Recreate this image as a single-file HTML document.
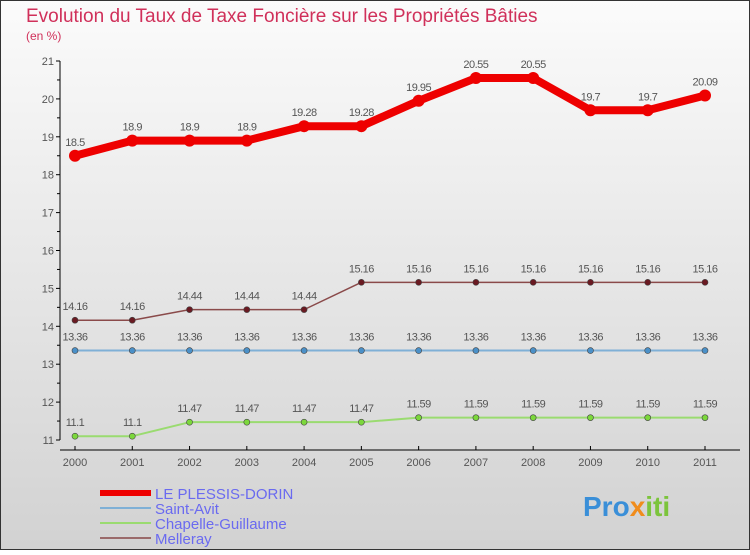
<!DOCTYPE html>
<html><head><meta charset="utf-8"><style>
body{margin:0;width:750px;height:550px;overflow:hidden;font-family:"Liberation Sans",sans-serif}
</style></head><body>
<svg width="750" height="550" xmlns="http://www.w3.org/2000/svg">
<defs><linearGradient id="bg" x1="0" y1="0" x2="0" y2="1"><stop offset="0" stop-color="#fbfbfb"/><stop offset="1" stop-color="#d2d2d2"/></linearGradient></defs>
<rect x="0.5" y="0.5" width="749" height="549" fill="url(#bg)" stroke="#333"/>
<text x="26" y="22" font-size="19" fill="#d0305a">Evolution du Taux de Taxe Foncière sur les Propriétés Bâties</text>
<text x="26" y="40" font-size="12" fill="#d0305a">(en %)</text>
<g id="axes"></g><g id="series"></g><g id="legend"></g>
<text x="583" y="516" font-size="28" font-weight="bold" fill="#3a8fd8">Pro<tspan fill="#f08c1c">x</tspan><tspan fill="#7cc43c">iti</tspan></text>
</svg>
<script>
const years=[2000,2001,2002,2003,2004,2005,2006,2007,2008,2009,2010,2011];
const yTicks=[11,12,13,14,15,16,17,18,19,20,21];
const plessis=[18.5,18.9,18.9,18.9,19.28,19.28,19.95,20.55,20.55,19.7,19.7,20.09];
const saintAvit=[13.36,13.36,13.36,13.36,13.36,13.36,13.36,13.36,13.36,13.36,13.36,13.36];
const chapelle=[11.1,11.1,11.47,11.47,11.47,11.47,11.59,11.59,11.59,11.59,11.59,11.59];
const melleray=[14.16,14.16,14.44,14.44,14.44,15.16,15.16,15.16,15.16,15.16,15.16,15.16];
const NS="http://www.w3.org/2000/svg";
const X=i=>75+i*(630/11);
const Y=v=>440-(v-11)*37.9;
function mk(t,a,p){const e=document.createElementNS(NS,t);for(const k in a)e.setAttribute(k,a[k]);p.appendChild(e);return e;}
const ax=document.getElementById('axes');
let l=mk('line',{x1:60,y1:Y(21),x2:60,y2:Y(11),stroke:'#000'},ax);


l=mk('line',{x1:60,y1:450,x2:740,y2:450,stroke:'#000'},ax);


yTicks.forEach(v=>{
 mk('line',{x1:56,y1:Y(v),x2:60,y2:Y(v),stroke:'#000'},ax);
 if(v<21)mk('line',{x1:57,y1:Y(v+0.5),x2:60,y2:Y(v+0.5),stroke:'#000'},ax);
 const t=mk('text',{x:54,y:Y(v)+4,'font-size':11,fill:'#555','text-anchor':'end'},ax);t.textContent=v;
 
 
});
years.forEach((y,i)=>{
 mk('line',{x1:X(i),y1:446,x2:X(i),y2:450,stroke:'#000'},ax);
 const t=mk('text',{x:X(i),y:466,'font-size':11,fill:'#555','text-anchor':'middle'},ax);t.textContent=y;
 
 
});
const sg=document.getElementById('series');
function draw(vals,color,w,r,name,dot){
 const g=mk('g',{},sg);
 
 
 mk('polyline',{points:vals.map((v,i)=>X(i)+','+Y(v)).join(' '),fill:'none',stroke:color,'stroke-width':w,'stroke-linejoin':'round'},g);
 vals.forEach((v,i)=>{
  const c=mk('circle',{cx:X(i),cy:Y(v),r:r,fill:dot,stroke:'#444','stroke-width':r>5?0:0.6},g);
  
  
  const t=mk('text',{x:X(i),y:Y(v)-10,'font-size':11,fill:'#555','text-anchor':'middle','letter-spacing':'-0.5'},g);t.textContent=v;
  
  
 });
}
draw(chapelle,'#9adb70',2,3,'chapelle-guillaume-series','#7cd83c');
draw(saintAvit,'#7fb0d6',2,3,'saint-avit-series','#4a90c8');
draw(melleray,'#8a4a4a',1.5,3,'melleray-series','#6a1a22');
draw(plessis,'#ee0000',8,6,'le-plessis-dorin-series','#ee0000');
const lg=document.getElementById('legend');
[['LE PLESSIS-DORIN','#ee0000',6],['Saint-Avit','#7fb0d6',2],['Chapelle-Guillaume','#9adb70',2],['Melleray','#9a6a6a',2]].forEach((d,i)=>{
 const yy=493+i*15;
 const g=mk('g',{},lg);
 
 
 mk('line',{x1:100,y1:yy,x2:151,y2:yy,stroke:d[1],'stroke-width':d[2]},g);
 const t=mk('text',{x:155,y:yy+6,'font-size':15,fill:'#6a6af0'},g);t.textContent=d[0];
});
</script>
</body></html>
